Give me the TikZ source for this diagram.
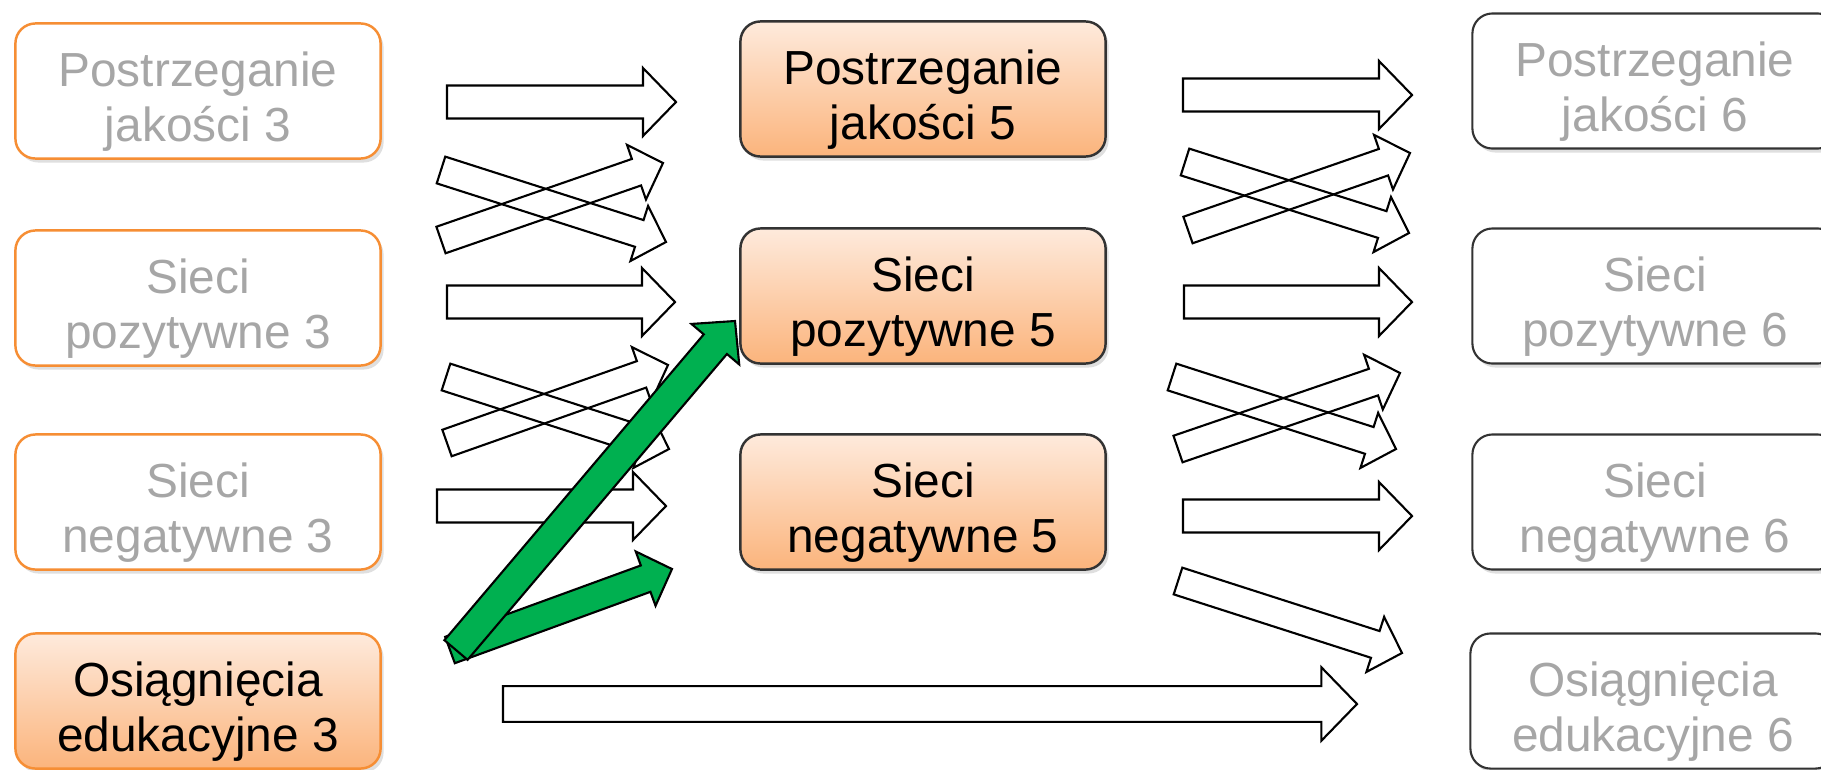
\documentclass[tikz,border=0pt]{standalone}
\usepackage{fontspec}
\setmainfont{Liberation Sans}
\usepackage{tikz}
\usetikzlibrary{calc, shadows}

\definecolor{boxorange}{RGB}{246,142,52}
\definecolor{peachtop}{RGB}{254,234,220}
\definecolor{peachbot}{RGB}{251,180,124}
\definecolor{arrowgreen}{RGB}{0,176,80}
\definecolor{fadedtext}{RGB}{166,166,166}

\newcommand{\hi}{\rule{0pt}{16pt}}
\newcommand{\blockarrow}[4][]{%
  \coordinate (hb) at ($(#4)!{#2*0.33cm}!(#3)$);
  \draw[line width=0.6pt, line join=miter, #1]
    ($(#3)!{#2*0.165cm}!90:(#4)$) -- ($(hb)!{#2*0.165cm}!-90:(#3)$)
    -- ($(hb)!{#2*0.34cm}!-90:(#3)$) -- (#4)
    -- ($(hb)!{#2*0.34cm}!90:(#3)$) -- ($(hb)!{#2*0.165cm}!90:(#3)$)
    -- ($(#3)!{#2*0.165cm}!-90:(#4)$) -- cycle;}

\begin{document}
\begin{tikzpicture}[x=0.01cm, y=-0.01cm,
    box/.style={rectangle, rounded corners=0.2cm, minimum width=3.65cm, minimum height=1.35cm,
      inner sep=1pt, align=center, font=\fontsize{13.6}{15.6}\selectfont, line width=0.7pt,
      drop shadow={opacity=0.25, shadow xshift=0.03cm, shadow yshift=-0.04cm}},
    old/.style={box, draw=boxorange, fill=white, text=fadedtext},
    start/.style={box, draw=boxorange, top color=peachtop, bottom color=peachbot, text=black},
    now/.style={box, draw=black!80, top color=peachtop, bottom color=peachbot, text=black},
    later/.style={box, draw=black!80, fill=white, text=fadedtext, line width=0.6pt}]
      \useasboundingbox (0,0) rectangle (1821,769);
      \clip (0,0) rectangle (1821,769);

      \node[old] (pj3) at (198, 91) {\hi Postrzeganie\\jakości 3};
      \node[old] (sp3) at (198, 298) {\hi Sieci\\pozytywne 3};
      \node[old] (sn3) at (198, 502) {\hi Sieci\\negatywne 3};
      \node[start] (oe3) at (198, 701) {\hi Osiągnięcia\\edukacyjne 3};

      \node[now] (pj5) at (923, 89) {\hi Postrzeganie\\jakości 5};
      \node[now] (sp5) at (923, 296) {\hi Sieci\\pozytywne 5};
      \node[now] (sn5) at (923, 502) {\hi Sieci\\negatywne 5};

      \node[later] (pj6) at (1655, 81) {\hi Postrzeganie\\jakości 6};
      \node[later] (sp6) at (1655, 296) {\hi Sieci\\pozytywne 6};
      \node[later] (sn6) at (1655, 502) {\hi Sieci\\negatywne 6};
      \node[later] (oe6) at (1653, 701) {\hi Osiągnięcia\\edukacyjne 6};

      \coordinate (a1s) at (447, 102); \coordinate (a1e) at (676, 102);
      \coordinate (a2s) at (441, 170); \coordinate (a2e) at (666, 242);
      \coordinate (a3s) at (441, 240); \coordinate (a3e) at (663, 163);
      \coordinate (a4s) at (447, 302); \coordinate (a4e) at (675, 302);
      \coordinate (a5s) at (446, 377); \coordinate (a5e) at (669, 449);
      \coordinate (a6s) at (447, 443); \coordinate (a6e) at (668, 365);
      \coordinate (a7s) at (437, 506); \coordinate (a7e) at (666, 506);
      \coordinate (g1s) at (450, 650); \coordinate (g1e) at (672, 569);
      \coordinate (g2s) at (456, 650); \coordinate (g2e) at (735, 321);

      \coordinate (b1s) at (1183, 95); \coordinate (b1e) at (1412, 95);
      \coordinate (b2s) at (1185, 162); \coordinate (b2e) at (1409, 233);
      \coordinate (b3s) at (1188, 230); \coordinate (b3e) at (1410, 153);
      \coordinate (b4s) at (1184, 302); \coordinate (b4e) at (1412, 302);
      \coordinate (b5s) at (1172, 377); \coordinate (b5e) at (1396, 449);
      \coordinate (b6s) at (1178, 449); \coordinate (b6e) at (1400, 373);
      \coordinate (b7s) at (1183, 516); \coordinate (b7e) at (1412, 516);
      \coordinate (b8s) at (1178, 581); \coordinate (b8e) at (1402, 653);
      \coordinate (c1s) at (503, 704); \coordinate (c1e) at (1357, 704);

      \blockarrow{1}{a1s}{a1e}
      \blockarrow{0.85}{a2s}{a2e}
      \blockarrow{0.85}{a3s}{a3e}
      \blockarrow{1}{a4s}{a4e}
      \blockarrow{0.85}{a5s}{a5e}
      \blockarrow{0.85}{a6s}{a6e}
      \blockarrow{1}{a7s}{a7e}
      \blockarrow[fill=arrowgreen]{0.85}{g1s}{g1e}
      \blockarrow[fill=arrowgreen]{0.92}{g2s}{g2e}

      \blockarrow{1}{b1s}{b1e}
      \blockarrow{0.85}{b2s}{b2e}
      \blockarrow{0.85}{b3s}{b3e}
      \blockarrow{1}{b4s}{b4e}
      \blockarrow{0.85}{b5s}{b5e}
      \blockarrow{0.85}{b6s}{b6e}
      \blockarrow{1}{b7s}{b7e}
      \blockarrow{0.85}{b8s}{b8e}
      \blockarrow{1.08}{c1s}{c1e}
    \end{tikzpicture}
\end{document}
